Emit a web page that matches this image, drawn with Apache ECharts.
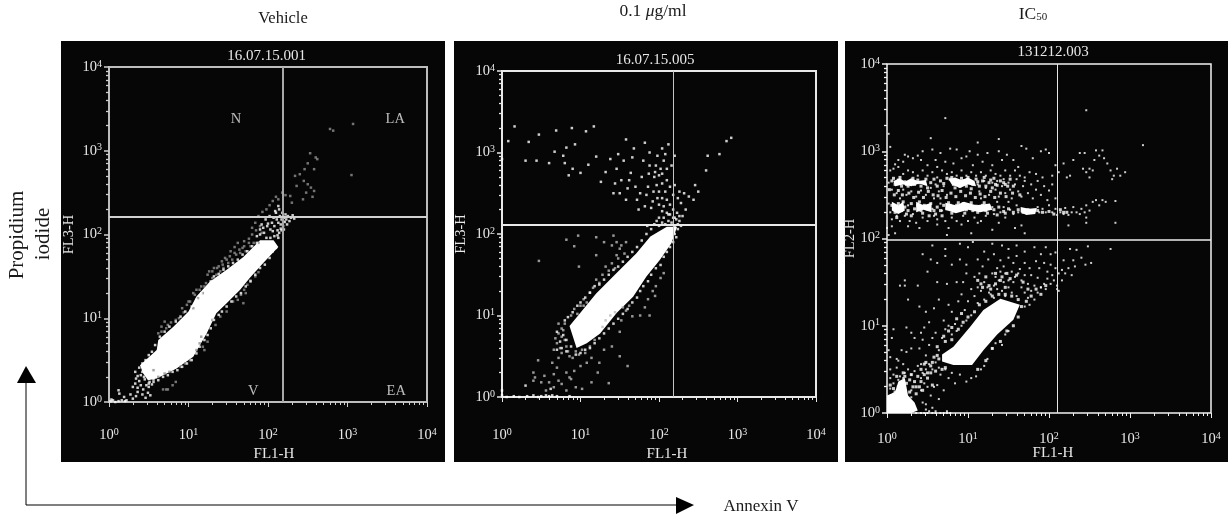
<!DOCTYPE html>
<html><head><meta charset="utf-8">
<style>html,body{margin:0;padding:0;background:#fff}#c{width:1228px;height:520px}</style>
<script src="https://cdn.jsdelivr.net/npm/echarts@6/dist/echarts.min.js"></script>
</head><body><div id="c"></div>
<script>
// All readings are log10 decades, as flat x,y,x,y… pairs.
const panelTitles = ['Vehicle', '0.1 {i|μ}g/ml', 'IC{s|50}'];
const sampleIds = ['16.07.15.001', '16.07.15.005', '131212.003'];
const xNames = ['FL1-H', 'FL1-H', 'FL1-H'];
const yNames = ['FL3-H', 'FL3-H', 'FL2-H'];
const gateX = [153, 152, 125];
const gateY = [162, 131, 98];
const quadrantLabels = [['N',39.5,2400],['LA',3990,2400],['V',65,1.34],['EA',4100,1.34]];

const blobs1 = [[.43,.34,.39,.44,.60,.62,.62,.74,.81,.90,1.0,1.08,1.10,1.26,1.27,1.44,1.48,1.58,1.69,1.73,1.9,1.93,2.07,1.93,2.13,1.85,1.94,1.66,1.77,1.48,1.65,1.34,1.48,1.18,1.35,1.06,1.23,.82,1.06,.54,.85,.40,.60,.28,.49,.26]];
const white1 = [.02,.01,.05,.02,.08,0,.12,.01,.16,.02,.2,.01,.03,.03,.13,.1,.12,.14,.19,.06,.22,.02,.27,.09,.30,.04,.34,.07,.36,.12,.30,.18,.33,.22,.36,.17,.38,.25,.40,.2,.42,.09,.43,.15,.45,.27,.46,.05,.47,.2,.49,.11,.5,.18,.52,.08,.44,.3,.40,.32,.36,.31,.33,.36,.38,.41,.34,.28,.42,.36,.47,.33,.51,.24,.54,.21,.56,.27,
.42,.46,.46,.5,.5,.56,.54,.6,.58,.68,.64,.78,.7,.84,.76,.9,.84,.96,.9,1.02,.96,1.08,1.04,1.14,1.1,1.22,1.16,1.3,1.22,1.36,1.28,1.44,1.32,1.5,1.38,1.53,1.44,1.58,1.5,1.62,1.56,1.66,1.62,1.7,1.68,1.76,1.74,1.8,1.8,1.86,1.86,1.9,
.5,.22,.56,.24,.62,.26,.68,.3,.74,.32,.8,.36,.86,.38,.92,.42,.98,.46,1.04,.5,1.1,.58,1.14,.66,1.2,.74,1.24,.8,1.28,.88,1.32,.98,1.38,1.04,1.42,1.08,1.48,1.14,1.54,1.2,1.6,1.26,1.66,1.3,1.72,1.38,1.78,1.44,1.84,1.52,1.9,1.6,1.96,1.64,2.02,1.72,2.06,1.8,2.1,1.84,
1.86,1.98,1.9,2.06,1.92,2.12,1.95,2.02,1.97,2.18,1.99,2.1,2.02,2.22,2.03,2.06,2.05,2.14,2.07,2.2,2.08,2.1,2.1,2.26,2.11,2.18,2.12,2.05,2.13,2.14,2.14,2.3,2.15,2.22,2.16,2.12,2.17,2.18,2.18,2.26,2.19,2.1,2.2,2.2,2.21,2.15,2.22,2.24,2.23,2.18,2.25,2.22,2.27,2.16,2.29,2.2,2.31,2.23,2.33,2.19,2.14,2.02,2.17,2.05,2.13,1.96,2.08,1.98,2.03,1.96,1.98,1.96,2.2,2.06,2.24,2.12,2.09,2.28,2.13,2.34,2.16,2.07,2.19,2.16,2.12,1.99,2.06,2.04,2.0,2.13,1.94,2.08,1.9,2.0];
const grey1 = [.56,.38,.62,.82,.66,.84,.72,.88,.78,.95,.84,.98,.88,1.0,.94,1.07,.98,1.16,1.02,1.2,1.06,1.12,1.08,1.28,1.1,1.34,1.12,1.24,1.16,1.38,1.18,1.3,1.22,1.42,1.24,1.52,1.26,1.56,1.3,1.48,1.32,1.6,1.35,1.52,1.38,1.62,1.4,1.56,1.42,1.68,1.44,1.6,1.46,1.72,1.5,1.66,1.53,1.8,1.55,1.7,1.58,1.85,1.6,1.76,1.62,1.9,1.65,1.78,1.68,1.84,1.7,1.92,1.72,1.8,1.76,1.95,1.78,1.86,1.8,2.0,1.82,1.9,1.85,2.05,1.88,1.9,1.9,2.1,1.92,2.02,1.8,2.08,1.84,2.14,1.88,2.22,1.93,2.27,1.98,2.3,2.02,2.35,2.06,2.4,2.1,2.45,2.13,2.42,2.18,2.5,2.22,2.47,
1.3,1.56,1.36,1.6,1.43,1.64,1.48,1.7,1.52,1.74,1.58,1.78,1.64,1.82,1.7,1.86,1.76,1.9,1.06,1.3,1.0,1.2,.92,1.12,1.14,1.34,1.2,1.38,.66,.9,.7,.96,.74,.92,
.62,.3,.7,.34,.76,.36,.8,.2,.72,.15,.68,.15,.74,.15,.84,.24,.9,.42,.96,.46,1.02,.5,1.1,.62,1.14,.7,1.18,.66,1.2,.62,1.16,.78,1.24,.72,1.3,.98,1.34,.92,1.4,1.02,1.48,1.08,1.56,1.2,1.62,1.22,1.7,1.34,1.74,1.4,1.78,1.45,1.84,1.5,1.88,1.55,1.66,1.28,1.72,1.3,1.69,1.18,
2.28,2.46,2.36,2.58,2.4,2.72,2.45,2.64,2.5,2.6,2.46,2.78,2.5,2.85,2.53,2.97,2.58,2.78,2.6,2.92,2.62,2.9,2.58,2.52,2.54,2.56,2.56,2.45,2.78,3.26,2.82,3.24,3.07,3.32,3.05,2.71,2.34,2.7,2.48,2.5,2.3,2.38,2.44,2.42];

const blobs2 = [[.91,.72,.86,.87,1.03,1.07,1.20,1.27,1.46,1.52,1.71,1.76,1.89,1.97,2.10,2.09,2.23,2.09,2.16,1.89,2.01,1.68,1.84,1.48,1.67,1.23,1.46,1.03,1.25,.78,1.08,.66,.95,.60]];
const white2 = [.0,.02,.06,.0,.15,.01,.22,.0,.32,.01,.4,.02,.46,.0,.5,.01,.56,.02,.6,.01,.64,.02,.7,.01,.86,.01,.3,.14,.62,.1,.0,.08,
.3,2.9,.44,2.9,.6,2.87,.67,3.01,.93,3.1,1.17,3.32,.34,3.13,.08,3.14,.0,2.92,.16,3.32,.69,3.27,.47,3.22,.89,3.3,1.07,3.26,
.78,2.96,.8,2.87,.85,2.72,.9,2.8,.82,3.06,1.0,2.75,1.1,2.85,1.2,2.95,1.26,2.64,1.32,2.76,1.38,2.92,1.42,2.5,1.44,2.62,1.46,2.8,1.48,2.98,1.5,2.5,1.52,2.66,1.55,2.9,1.58,3.16,1.58,2.42,1.6,2.56,1.62,2.66,1.64,2.75,1.66,2.94,1.68,3.05,1.7,2.58,1.72,2.42,1.74,2.3,1.76,2.5,1.78,2.7,1.8,2.9,1.82,3.12,1.82,2.34,1.84,2.48,1.86,2.58,1.87,2.74,1.88,2.84,1.88,3.0,1.9,2.32,1.92,2.4,1.93,2.52,1.94,2.7,1.95,2.76,1.96,2.84,1.97,2.6,1.98,2.44,1.98,2.96,2,2.36,2,2.52,2,2.72,2.02,2.8,2.04,2.28,2.04,2.44,2.04,2.62,2.04,2.74,2.04,3.05,2.06,2.9,2.06,2.34,2.08,2.52,2.08,2.98,2.1,2.26,2.1,2.42,2.1,2.66,2.1,2.8,2.12,3.1,2.14,2.24,2.14,2.36,2.14,2.58,2.16,2.84,2.18,2.3,2.18,2.48,2.2,2.2,2.2,2.6,2.2,2.96,2.23,2.26,2.24,2.44,2.26,2.16,2.26,2.52,2.28,2.38,2.3,2.22,2.32,2.5,2.34,2.3,2.38,2.46,2.44,2.42,2.46,2.6,2.5,2.52,2.6,2.78,2.62,2.96,2.77,2.98,2.86,3.14,2.92,3.18,
1.85,2.1,1.9,2.06,1.94,2.12,1.97,2.16,2.0,2.1,2.04,2.14,2.08,2.12,2.12,2.16,2.16,2.14,2.2,2.1,2.24,2.12,2.28,2.1,2.18,2.2,2.22,2.18,2.26,2.22,2.12,2.24,2.06,2.2,2.0,2.2,
2.2,2.0,2.24,2.06,2.22,1.96,2.18,1.9,2.14,1.84,2.1,1.78,2.06,1.72,2.02,1.62,1.96,1.58,1.9,1.5,1.86,1.42,1.8,1.36,1.76,1.3,1.72,1.22,1.66,1.16,1.6,1.08,1.54,1.02,1.48,.96,1.42,.9,1.36,.84,1.3,.78,1.24,.72,1.18,.66,1.12,.6,1.06,.58,1.0,.54,.94,.52,.88,.62,.82,.7,
.8,.94,.84,.98,.9,1.04,.96,1.12,1.0,1.16,1.06,1.22,1.12,1.28,1.18,1.36,1.24,1.38,1.3,1.44,1.36,1.5,1.42,1.56,1.48,1.6,1.54,1.66,1.6,1.72,1.66,1.78,1.72,1.84,1.78,1.92,1.84,2.0,.7,.8,.74,.68,.78,.76,.76,.6,.82,.56,.7,.58];
const grey2 = [.46,.45,.4,.3,.4,.2,.42,.24,.5,.18,.54,.26,.56,.08,.6,.18,.66,.12,.72,.2,.76,.16,.82,.08,.88,.22,.94,.12,1.02,.1,1.36,.17,1.14,.18,.66,.28,.7,.36,.64,.42,.72,.48,.76,.54,.82,.3,.86,.24,.92,.32,1.0,.38,1.08,.42,1.14,.48,1.22,.3,1.24,.42,1.5,.5,1.6,.38,1.3,.58,1.4,.62,
.66,.58,.68,.72,.7,.66,.72,.78,.74,.6,.76,.74,.78,.82,.8,.7,.82,.62,.84,.56,.86,.5,.9,.48,.94,.56,.98,.52,1.02,.58,1.06,.54,1.12,.62,1.18,.7,.72,.9,.76,.84,.8,.9,.88,1.0,.92,1.08,.96,1.02,1.0,1.12,1.04,1.2,1.08,1.16,1.12,1.28,1.16,1.34,1.2,1.44,1.24,1.4,1.28,1.5,1.32,1.6,1.36,1.55,1.4,1.64,1.44,1.58,1.48,1.7,1.52,1.86,1.56,1.76,1.4,1.86,1.46,1.9,1.42,1.98,1.46,1.74,1.5,1.82,1.58,1.9,1.2,1.96,.82,1.93,.97,1.98,.92,1.85,.98,1.6,.47,1.67,1.2,1.74,1.3,1.9,1.04,1.12,
1.28,.86,1.32,.94,1.38,1.0,1.44,1.04,1.5,.8,1.52,.94,1.54,1.1,1.58,1.06,1.62,1.12,1.66,.99,1.76,1.0,1.88,1.0,1.82,1.1,1.86,1.2,1.92,1.3,1.96,1.36,2.02,1.46,2.06,1.52,1.95,1.24];

const blobs3 = [[.68,.67,.82,.76,1.03,.99,1.19,1.18,1.40,1.31,1.64,1.24,1.56,1.07,1.36,.90,1.19,.72,1.05,.55,.82,.55,.68,.59],
[.0,.0,.0,.2,.1,.24,.14,.36,.22,.4,.26,.2,.34,.12,.38,.03,.3,.0],
[.08,2.66,.16,2.69,.22,2.65,.3,2.69,.38,2.66,.48,2.67,.5,2.6,.4,2.63,.3,2.6,.2,2.62,.1,2.6],
[.76,2.68,.84,2.7,.92,2.67,1.0,2.7,1.08,2.66,1.1,2.6,1.0,2.62,.9,2.58,.8,2.62],
[.06,2.42,.14,2.38,.2,2.42,.22,2.32,.14,2.28,.06,2.32],[.36,2.42,.45,2.38,.55,2.41,.55,2.3,.45,2.33,.36,2.3],
[.72,2.41,.85,2.38,.95,2.42,1.1,2.38,1.27,2.4,1.3,2.33,1.15,2.3,1.0,2.33,.85,2.29,.72,2.33],[1.65,2.36,1.75,2.34,1.85,2.35,1.83,2.28,1.72,2.27,1.65,2.3]];
const dense3 = [.06,2.66,.1,2.62,.14,2.67,.18,2.6,.22,2.65,.26,2.6,.3,2.66,.34,2.62,.38,2.67,.42,2.6,.46,2.64,.5,2.58,.78,2.68,.82,2.62,.86,2.66,.9,2.6,.94,2.66,.98,2.6,1.02,2.66,1.06,2.62,1.1,2.68,1.14,2.6,1.18,2.66,1.22,2.6,1.26,2.64,1.3,2.58,1.34,2.62,1.4,2.66,1.46,2.62,1.52,2.68,1.56,2.6,
.08,2.69,.16,2.7,.24,2.62,.32,2.69,.4,2.64,.48,2.68,.8,2.7,.84,2.58,.92,2.69,1.0,2.7,1.04,2.57,1.12,2.65,1.2,2.7,1.28,2.67,
.54,2.64,.58,2.68,.62,2.6,.66,2.66,.7,2.63,.74,2.69,1.32,2.69,1.36,2.61,1.44,2.64,1.49,2.6,
.03,2.56,.09,2.5,.14,2.55,.19,2.5,.27,2.52,.33,2.47,.39,2.53,.45,2.47,.51,2.54,.57,2.5,.63,2.49,.68,2.55,.73,2.47,.79,2.52,.85,2.48,.91,2.54,.97,2.49,1.03,2.52,1.09,2.47,1.15,2.51,1.21,2.48,1.28,2.54,1.33,2.47,1.4,2.52,1.47,2.48,1.55,2.52,1.64,2.5,
.06,2.38,.1,2.34,.14,2.4,.18,2.32,.22,2.36,.26,2.32,.3,2.4,.34,2.34,.38,2.38,.42,2.32,.46,2.38,.5,2.34,.54,2.4,.58,2.32,.62,2.36,.66,2.32,.7,2.38,.74,2.34,.78,2.38,.82,2.32,.86,2.38,.9,2.33,.94,2.4,.98,2.33,1.02,2.38,1.06,2.32,1.1,2.37,1.14,2.33,1.18,2.38,1.22,2.32,1.26,2.37,1.32,2.33,1.38,2.36,1.44,2.31,1.5,2.34,1.56,2.3,1.62,2.33,1.68,2.3,1.74,2.33,1.8,2.3,1.86,2.32,
.1,2.3,.2,2.42,.4,2.42,.44,2.29,.76,2.41,.8,2.29,.88,2.41,.96,2.29,1.04,2.41,1.12,2.3,1.2,2.41,2.14,2.33,2.18,2.3,
.12,2.24,.24,2.28,.3,2.26,.52,2.26,.6,2.28,.68,2.26,1.24,2.29,1.36,2.27,1.46,2.29,1.92,2.3,2.0,2.31,2.06,2.28,2.22,2.3,
.72,.52,.68,.5,.64,.62,.62,.66,.58,.64,.56,.58,.72,.82,.8,.84,.88,.96,.94,1.04,1.0,1.1,1.08,1.16,1.14,1.24,1.22,1.28,1.3,1.34,1.38,1.36,1.46,1.36,1.54,1.34,1.62,1.3,1.66,1.22,1.62,1.1,1.56,1.0,1.48,.94,1.4,.82,1.3,.74,1.22,.6,1.12,.5,1.28,1.42,1.34,1.48,1.18,1.44,1.4,1.52,1.46,1.44,
1.12,1.52,1.16,1.48,1.22,1.56,1.26,1.46,1.34,1.6,1.42,1.56,1.48,1.6,1.52,1.54,1.6,1.58,1.68,1.5,1.74,1.42,1.78,1.34,1.72,1.28,1.84,1.42,1.9,1.36,1.96,1.46,.92,1.14,.86,1.08,.8,.98,.76,.94,.7,.88,.62,.76,
.04,.04,.08,.1,.12,.04,.14,.16,.18,.12,.22,.18,.26,.12,.28,.06,.06,.2,.1,.24,.14,.3,.2,.28,.24,.34,.28,.24,.32,.3,.36,.22,.34,.36,.04,.32,.08,.28,.22,.42,.28,.38,.36,.3,.4,.3,.42,.36,.44,.26,.3,.44,.38,.42,.46,.44,.5,.4,.56,.32,.2,.46,.12,.42,
.42,.5,.46,.56,.54,.46,.6,.48,.54,.54,.5,.46,.48,.58];
const white3 = [.22,2.96,.54,3.15,.72,3.38,1.12,3.1,1.38,3.14,2.46,3.47,3.16,3.07,2.66,3.01,1.66,3.06,
.02,3.2,.04,3.05,.1,2.85,.14,2.9,.2,2.88,.26,2.94,.32,2.92,.38,2.95,.42,2.9,.44,3.0,.5,2.84,.56,3.02,.6,2.9,.62,2.82,.66,2.98,.72,2.88,.78,3.03,.82,2.86,.86,3.02,.92,2.92,.98,2.94,1.02,3.0,1.06,2.84,1.12,2.96,1.18,2.88,1.24,2.98,1.3,2.84,1.38,3.0,1.42,2.9,1.48,2.96,1.56,2.9,1.62,2.82,1.72,3.03,1.8,2.92,1.9,3.0,1.96,3.02,2.0,2.98,2.08,2.84,2.18,2.86,2.3,2.9,2.38,2.98,2.44,2.98,2.62,2.95,2.68,2.92,2.56,2.9,2.58,3.01,
.04,2.78,.08,2.8,.14,2.82,.2,2.74,.26,2.78,.32,2.76,.38,2.72,.44,2.78,.5,2.72,.56,2.76,.62,2.7,.68,2.78,.74,2.74,.8,2.76,.86,2.72,.92,2.78,.98,2.72,1.04,2.76,1.1,2.72,1.16,2.76,1.22,2.72,1.28,2.78,1.34,2.74,1.4,2.72,1.46,2.78,1.52,2.72,1.58,2.78,1.64,2.72,1.7,2.7,1.76,2.76,1.84,2.74,1.92,2.7,2.04,2.72,2.12,2.76,2.22,2.7,2.26,2.72,2.42,2.8,2.46,2.76,2.5,2.8,2.54,2.78,2.5,2.7,2.72,2.86,2.76,2.78,2.8,2.72,2.84,2.8,2.78,2.68,2.88,2.72,2.94,2.76,
.02,2.64,.06,2.56,.12,2.52,.16,2.46,.2,2.56,.24,2.5,.3,2.54,.36,2.48,.42,2.55,.48,2.5,.54,2.58,.6,2.62,.64,2.54,.66,2.46,.7,2.6,.74,2.5,.58,2.46,1.12,2.62,1.14,2.54,1.16,2.46,1.2,2.66,1.22,2.58,1.26,2.5,1.3,2.64,1.34,2.56,1.36,2.66,1.38,2.48,1.42,2.6,1.44,2.68,1.46,2.52,1.5,2.64,1.52,2.56,1.54,2.46,1.58,2.62,1.6,2.68,1.62,2.54,1.66,2.48,1.68,2.6,1.7,2.66,1.74,2.52,1.78,2.62,1.8,2.46,1.84,2.56,1.86,2.66,1.9,2.5,1.94,2.6,1.98,2.44,2.0,2.55,2.04,2.62,2.08,2.46,
.02,2.4,.04,2.3,.06,2.22,.12,2.26,.16,2.2,.22,2.26,.26,2.38,.28,2.2,.32,2.28,.36,2.18,.44,2.24,.5,2.2,.56,2.34,.58,2.26,.62,2.22,.66,2.4,.68,2.32,.72,2.2,.8,2.24,.86,2.2,.94,2.26,1.0,2.2,1.08,2.24,1.16,2.2,1.22,2.26,1.3,2.36,1.32,2.28,1.36,2.42,1.4,2.3,1.44,2.36,1.46,2.24,1.5,2.42,1.52,2.33,1.56,2.28,1.6,2.38,1.62,2.3,1.86,2.36,1.88,2.3,1.92,2.34,1.96,2.3,2.0,2.38,2.04,2.3,2.08,2.34,2.1,2.27,2.14,2.3,2.18,2.28,2.2,2.35,2.24,2.27,2.28,2.3,2.3,2.36,2.34,2.3,2.38,2.28,2.4,2.34,2.44,2.3,2.46,2.38,2.5,2.32,2.54,2.42,2.58,2.44,2.62,2.38,2.66,2.44,2.7,2.42,2.46,2.24,2.46,2.18,2.82,2.43,
.06,2.14,.1,2.06,.02,2.04,.0,2.12,.26,2.14,.4,2.12,.62,2.16,.76,2.12,.74,2.04,.92,2.16,1.04,2.06,1.12,2.18,1.3,2.1,1.38,2.18,1.58,2.12,1.66,2.15,1.7,2.06,2.24,2.15,2.82,2.18,
.56,1.92,.72,1.88,.9,1.94,1.0,1.9,1.06,1.96,1.2,1.85,1.3,1.94,1.42,1.92,1.5,1.88,1.6,1.92,1.7,1.85,1.82,1.9,1.9,1.82,1.96,1.9,2.02,1.82,2.08,1.84,2.18,1.75,2.26,1.88,2.34,1.87,2.3,1.75,2.4,1.78,2.48,1.91,2.45,1.7,2.52,1.72,2.76,1.88,
.44,1.82,.54,1.76,.62,1.72,.72,1.8,.8,1.7,.9,1.76,.98,1.7,1.12,1.76,1.18,1.68,1.25,1.76,1.32,1.82,1.4,1.75,1.36,1.66,1.44,1.68,1.5,1.78,1.56,1.72,1.6,1.8,1.64,1.65,1.7,1.72,1.76,1.66,1.84,1.74,1.88,1.66,1.94,1.72,1.98,1.62,2.04,1.58,2.08,1.66,2.02,1.7,2.12,1.6,2.16,1.52,2.2,1.6,2.24,1.66,2.16,1.64,2.28,1.58,2.32,1.68,
.22,1.52,.38,1.46,.5,1.62,.16,1.46,.22,1.46,.62,1.5,.74,1.48,.86,1.5,.94,1.5,.98,1.6,1.04,1.42,1.08,1.56,1.12,1.44,1.14,1.6,1.2,1.5,1.26,1.38,1.3,1.6,1.32,1.46,1.34,1.56,1.38,1.52,1.4,1.62,1.44,1.5,1.46,1.6,1.5,1.52,1.54,1.62,1.56,1.5,1.58,1.56,1.62,1.6,1.66,1.52,1.7,1.58,1.74,1.48,1.78,1.58,1.82,1.46,1.86,1.55,1.9,1.44,1.94,1.48,1.98,1.54,2.02,1.48,2.06,1.52,2.1,1.46,2.1,1.42,1.96,1.42,2.12,1.4,
.24,.98,.46,.98,.42,.92,.26,1.3,.3,.92,.4,1.22,.48,1.16,.52,1.04,.58,1.2,.64,1.3,.7,1.06,.76,1.24,.8,1.16,.84,1.02,.88,1.28,.92,1.36,.96,1.18,1.0,1.28,1.04,1.12,1.08,1.34,1.12,1.26,1.16,1.4,1.2,1.3,1.24,1.44,1.28,1.36,1.32,1.32,1.36,1.42,1.42,1.4,1.46,1.34,1.5,1.44,1.54,1.38,1.6,1.34,1.66,1.44,1.7,1.38,1.74,1.32,1.78,1.4,1.82,1.3,1.86,1.38,1.9,1.44,1.7,1.22,1.76,1.24,
.08,.96,.06,.86,.02,.72,.04,.64,.18,.72,.24,.7,.3,.74,.34,.86,.4,.74,.44,.84,.48,.66,.52,.78,.56,.86,.6,.92,.64,.72,.68,.86,.72,.96,.76,1.0,.8,.9,.86,.94,.92,1.0,.98,1.06,1.44,1.14,1.5,.94,1.46,.9,1.5,1.04,1.42,.78,1.34,.8,1.3,.74,1.24,.62,1.2,.54,1.16,.5,1.1,.42,1.04,.4,.98,.36,.9,.44,.84,.34,.8,.46,.76,.4,.72,.5,.66,.44,.62,.32,.58,.3,.54,.2,.5,.3,.48,.1,.44,.46,.42,.26,.46,.34,.56,.06,.52,.02,.6,.02,.64,.16,.7,.26,.74,.02,
.04,.5,.08,.44,.12,.52,.16,.42,.2,.56,.22,.46,.26,.5,.3,.44,.34,.48,.38,.54,.42,.56,.48,.5,.52,.56,.56,.5,.6,.58,.64,.52,.04,.4,.08,.34,.14,.38,.04,.28,.08,.22,.3,.18,.44,.12,.48,.04,.36,.0,.42,.0,.46,.0,.5,.0,.56,.0,.6,.0,.66,.0,.7,.0,.74,.0,.78,.0,.3,.26,.42,.4,.14,.6,.12,.62,.2,.4];

const plotBoxes = [{left:109,top:67,width:318,height:335},{left:502,top:71,width:314,height:326},{left:887,top:64,width:324,height:349}];
const styles = [
 {box:'#bdbdbd',bw:2,v:{c:'#a8a8a8',w:2},h:{c:'#d0d0d0',w:2},tick:'#cfcfcf',sz:2.5,grey:'#909090'},
 {box:'#e8e8e8',bw:2,v:{c:'#c4c4c4',w:1},h:{c:'#e8e8e8',w:2},tick:'#e6e6e6',sz:2.5,grey:'#bbbbbb'},
 {box:'#f2f2f2',bw:1.5,v:{c:'#e6e6e6',w:1},h:{c:'#ececec',w:1.5},tick:'#f0f0f0',sz:2,grey:'#ffffff'}];

const toPairs = f => { const o=[]; for(let i=0;i<f.length;i+=2) o.push([10**f[i],10**f[i+1]]); return o; };
const whites=[white1,white2,white3], greys=[grey1,grey2,[]], denses=[[],[],dense3], blobs=[blobs1,blobs2,blobs3];
const serif='"Liberation Serif"';
const tickFmt = v => `{a|10}{b|${Math.round(Math.log10(v))}}`;
const tickRich = {a:{color:'#e8e8e8',fontFamily:serif,fontSize:14.5},b:{color:'#e8e8e8',fontFamily:serif,fontSize:10,padding:[0,0,6,0]}};

const grid=[],xAxis=[],yAxis=[],series=[];
plotBoxes.forEach((b,i)=>{
  const s=styles[i];
  grid.push({...b,show:true,backgroundColor:'#060606',borderColor:s.box,borderWidth:s.bw,containLabel:false});
  const mk=(dim)=>({type:'log',logBase:10,min:1,max:10000,gridIndex:i,splitLine:{show:false},minorSplitLine:{show:false},
    axisLine:{show:false},axisTick:{show:true,length:5,lineStyle:{color:s.tick,width:dim==='y'?1.5:1}},
    minorTick:{show:true,length:3,splitNumber:9,lineStyle:{color:s.tick,width:dim==='y'?1.3:1}},
    axisLabel:{formatter:tickFmt,rich:tickRich,margin:dim==='x'?[25,30,18][i]:7,hideOverlap:false,showMinLabel:true,showMaxLabel:true}});
  xAxis.push({...mk('x'),name:xNames[i],nameLocation:'middle',nameMoveOverlap:false,nameGap:[45,50,33][i],nameTextStyle:{color:'#e8e8e8',fontFamily:serif,fontSize:15,padding:[0,0,0,[12,16,8][i]]}});
  yAxis.push({...mk('y'),name:yNames[i],nameLocation:'middle',nameMoveOverlap:false,nameGap:[32,33,29][i],nameRotate:90,nameTextStyle:{color:'#e8e8e8',fontFamily:serif,fontSize:14.5}});
  const polys=blobs[i];
  series.push({type:'custom',xAxisIndex:i,yAxisIndex:i,z:2,silent:true,clip:true,data:polys.map((p,k)=>[10**p[0],10**p[1],k]),
    encode:{x:0,y:1},
    renderItem:(p,api)=>{const f=polys[api.value(2)],pts=[];for(let k=0;k<f.length;k+=2)pts.push(api.coord([10**f[k],10**f[k+1]]));
      return {type:'polygon',shape:{points:pts},style:{fill:'#ffffff'}};}});
  if(greys[i].length) series.push({type:'scatter',xAxisIndex:i,yAxisIndex:i,z:3,silent:true,symbol:'rect',symbolSize:s.sz,itemStyle:{color:s.grey},data:toPairs(greys[i])});
  if(denses[i].length) series.push({type:'scatter',xAxisIndex:i,yAxisIndex:i,z:3,silent:true,symbol:'rect',symbolSize:3,itemStyle:{color:'#ffffff'},data:toPairs(denses[i])});
  series.push({type:'scatter',xAxisIndex:i,yAxisIndex:i,z:4,silent:true,symbol:'rect',symbolSize:s.sz,itemStyle:{color:'#ffffff'},data:toPairs(whites[i]),
    markLine:{silent:true,symbol:'none',animation:false,z:5,label:{show:false},data:[
      {xAxis:gateX[i],lineStyle:{type:'solid',color:s.v.c,width:s.v.w}},
      {yAxis:gateY[i],lineStyle:{type:'solid',color:s.h.c,width:s.h.w}}]}});
});
series.push({type:'scatter',xAxisIndex:0,yAxisIndex:0,symbolSize:0,z:6,silent:true,data:quadrantLabels.map(q=>({value:[q[1],q[2]],name:q[0]})),
  label:{show:true,position:'inside',formatter:'{b}',color:'#e8e8e8',fontFamily:serif,fontSize:14.5}});

const ttl=(text,x,top,color,size,rich)=>({text,left:x,top,textAlign:'center',padding:0,textStyle:{color,fontFamily:serif,fontSize:size,fontWeight:'normal',rich}});
const titleRich={i:{fontStyle:'italic',fontFamily:serif,fontSize:17.5,color:'#1a1a1a'},s:{fontFamily:serif,fontSize:11,color:'#1a1a1a',padding:[0,0,-7,0]}};
const title=[
 ttl(panelTitles[0],283,10,'#1a1a1a',16.5,titleRich),
 ttl(panelTitles[1],653,2,'#1a1a1a',17.5,titleRich),
 ttl(panelTitles[2],1033,5,'#1a1a1a',17.5,titleRich),
 ttl(sampleIds[0],266.5,49,'#e8e8e8',15),ttl(sampleIds[1],655,53,'#e8e8e8',15),ttl(sampleIds[2],1053,45,'#e8e8e8',15),
 ttl('Annexin V',761,498,'#1a1a1a',17)];

const graphic=[
 ...[[61,41,384,421],[454,41,384,421],[845,41,383,421]].map(r=>({type:'rect',z:-10,shape:{x:r[0],y:r[1],width:r[2],height:r[3]},style:{fill:'#060606'}})),
 {type:'polyline',z:10,shape:{points:[[26,375],[26,505],[680,505]]},style:{stroke:'#000',lineWidth:1,fill:null}},
 {type:'polygon',z:10,shape:{points:[[26,366],[17,383],[36,383]]},style:{fill:'#000'}},
 {type:'polygon',z:10,shape:{points:[[694,505],[676,497],[676,514]]},style:{fill:'#000'}},
 {type:'text',z:10,x:17,y:235,rotation:Math.PI/2,style:{text:'Propidium',font:'21px "Liberation Serif"',fill:'#1a1a1a',align:'center',verticalAlign:'middle'}},
 {type:'text',z:10,x:43,y:234,rotation:Math.PI/2,style:{text:'iodide',font:'21px "Liberation Serif"',fill:'#1a1a1a',align:'center',verticalAlign:'middle'}}
];
const chart=echarts.init(document.getElementById('c'),null,{renderer:'canvas'});
chart.setOption({animation:false,backgroundColor:'#fff',title,grid,xAxis,yAxis,series,graphic,tooltip:{show:false}});
</script></body></html>
